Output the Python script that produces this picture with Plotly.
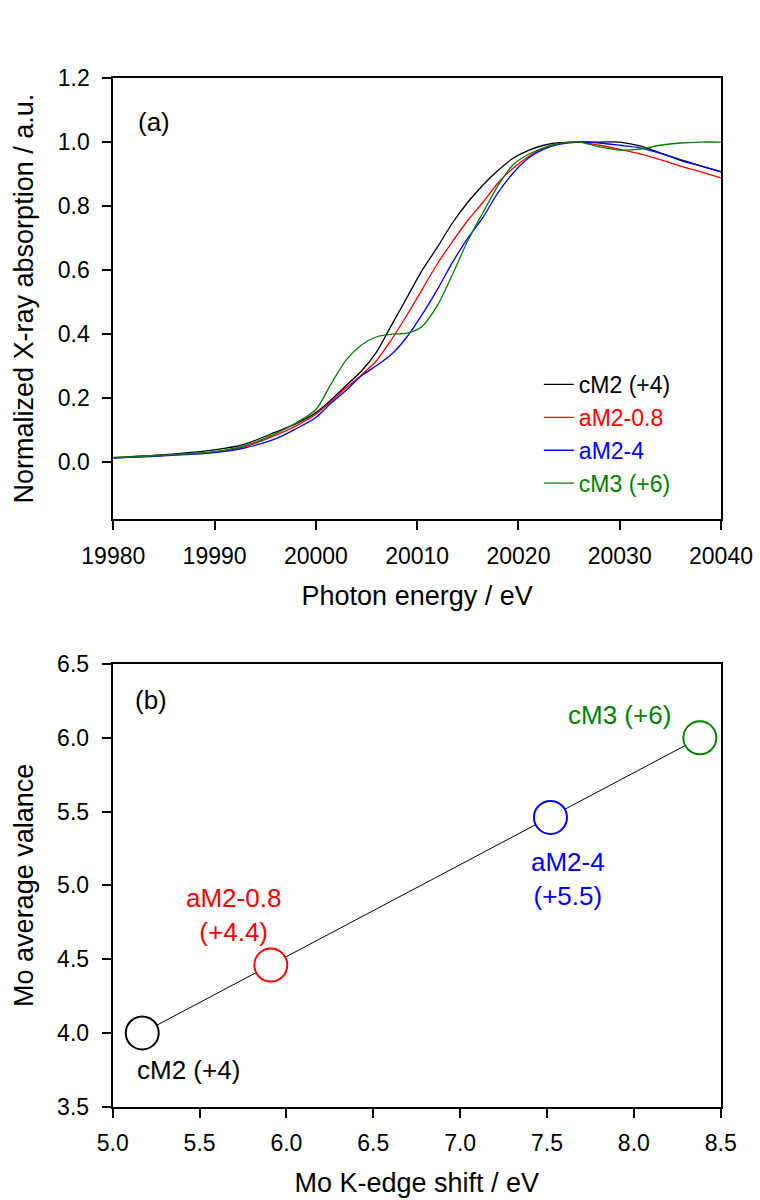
import plotly.graph_objects as go

# ---------------- Panel (a) data: Mo K-edge XANES ----------------
energy = [19980, 19985, 19990, 19993, 19996, 19998, 20000, 20001.5, 20003, 20004.5,
          20006, 20007.5, 20009, 20010.5, 20012, 20013.5, 20015, 20016.5, 20018, 20019.5,
          20021, 20022.5, 20024, 20026, 20028, 20030, 20032, 20034, 20036, 20038, 20040]

cM2 = [0.015, 0.024, 0.039, 0.057, 0.094, 0.120, 0.155, 0.195, 0.240, 0.285,
       0.345, 0.430, 0.515, 0.600, 0.672, 0.748, 0.812, 0.866, 0.912, 0.950,
       0.974, 0.990, 0.998, 1.000, 1.000, 1.000, 0.988, 0.966, 0.943, 0.925, 0.907]

aM2_08 = [0.014, 0.022, 0.032, 0.049, 0.084, 0.113, 0.150, 0.190, 0.233, 0.273,
          0.318, 0.385, 0.460, 0.540, 0.620, 0.690, 0.755, 0.812, 0.873, 0.919,
          0.955, 0.982, 0.995, 1.000, 0.990, 0.977, 0.963, 0.945, 0.925, 0.907, 0.888]

aM2_4 = [0.013, 0.020, 0.030, 0.045, 0.073, 0.104, 0.140, 0.185, 0.225, 0.270,
         0.302, 0.338, 0.392, 0.462, 0.540, 0.625, 0.700, 0.765, 0.843, 0.904,
         0.950, 0.978, 0.993, 1.000, 0.997, 0.990, 0.982, 0.965, 0.945, 0.926, 0.908]

cM3 = [0.014, 0.022, 0.033, 0.052, 0.089, 0.122, 0.165, 0.245, 0.320, 0.366,
       0.392, 0.400, 0.403, 0.425, 0.490, 0.587, 0.692, 0.780, 0.865, 0.930,
       0.962, 0.982, 0.995, 1.000, 0.985, 0.975, 0.978, 0.990, 0.997, 1.000, 1.000]

series_names = ["cM2 (+4)", "aM2-0.8", "aM2-4", "cM3 (+6)"]
series_colors = ["#000000", "#ff0000", "#0000ff", "#008000"]

# ---------------- Panel (b) data: valence vs edge shift ----------------
edge_shift = [5.17, 5.91, 7.52, 8.38]
valence = [4.00, 4.46, 5.46, 6.00]
point_labels = ["cM2 (+4)", "aM2-0.8<br>(+4.4)", "aM2-4<br>(+5.5)", "cM3 (+6)"]
label_dx = [46, -37, 18, -80]
label_dy = [-37, 50, -62, 23]

FONT = "Arial, Liberation Sans, sans-serif"
TICK = 23
TITLE = 27

fig = go.Figure()

for name, col, vals in zip(series_names, series_colors, [cM2, aM2_08, aM2_4, cM3]):
    fig.add_trace(go.Scatter(
        x=energy, y=vals, mode="lines", line=dict(color=col, width=1.3, shape="spline", smoothing=0.8),
        name=f'<span style="color:{col}">{name}</span>',
        xaxis="x", yaxis="y"))

fig.add_trace(go.Scatter(
    x=edge_shift, y=valence, mode="lines", line=dict(color="black", width=1),
    showlegend=False, xaxis="x2", yaxis="y2"))
fig.add_trace(go.Scatter(
    x=edge_shift, y=valence, mode="markers",
    marker=dict(symbol="circle", size=33, color="white",
                line=dict(color=series_colors, width=2)),
    showlegend=False, xaxis="x2", yaxis="y2"))

axis_common = dict(showline=True, linecolor="black", linewidth=2, mirror=True,
                   ticks="outside", ticklen=9, tickwidth=1.5, tickcolor="black",
                   showgrid=False, zeroline=False, automargin=False,
                   tickfont=dict(family=FONT, size=TICK, color="black"))

fig.update_layout(
    width=760, height=1200,
    margin=dict(l=0, r=0, t=0, b=0),
    paper_bgcolor="white", plot_bgcolor="white",
    font=dict(family=FONT, color="black"),
    xaxis=dict(domain=[0.1491, 0.9487], anchor="y", range=[19980, 20040], dtick=10,
               tick0=19980, tickformat="d", ticklabelstandoff=6,
               title=dict(text="Photon energy / eV", font=dict(family=FONT, size=TITLE), standoff=18),
               **axis_common),
    yaxis=dict(domain=[0.56725, 0.935], anchor="x", range=[-0.178, 1.2], dtick=0.2,
               tick0=0, tickformat=".1f", ticklabelstandoff=8,
               title=dict(text="Normalized X-ray absorption / a.u.", font=dict(family=FONT, size=TITLE), standoff=16),
               **axis_common),
    xaxis2=dict(domain=[0.1483, 0.9483], anchor="y2", range=[5.0, 8.5], dtick=0.5,
                tick0=5.0, tickformat=".1f", ticklabelstandoff=6,
                title=dict(text="Mo K-edge shift / eV", font=dict(family=FONT, size=TITLE), standoff=18),
                **axis_common),
    yaxis2=dict(domain=[0.07775, 0.44667], anchor="x2", range=[3.5, 6.5], dtick=0.5,
                tick0=3.5, tickformat=".1f", ticklabelstandoff=8,
                title=dict(text="Mo average valance", font=dict(family=FONT, size=TITLE), standoff=16),
                **axis_common),
    legend=dict(x=0.709, y=0.6975, xanchor="left", yanchor="top",
                bgcolor="rgba(0,0,0,0)", borderwidth=0,
                font=dict(family=FONT, size=23),
                traceorder="normal", tracegroupgap=0),
    showlegend=True,
)

annotations = [
    dict(text="(a)", xref="x domain", yref="y domain", x=0.038, y=0.90,
         xanchor="left", yanchor="middle", showarrow=False,
         font=dict(family=FONT, size=26, color="black")),
    dict(text="(b)", xref="x2 domain", yref="y2 domain", x=0.033, y=0.919,
         xanchor="left", yanchor="middle", showarrow=False,
         font=dict(family=FONT, size=26, color="black")),
]
for xs, v, lab, col, dx, dy in zip(edge_shift, valence, point_labels, series_colors, label_dx, label_dy):
    annotations.append(dict(text=lab, x=xs, y=v, xref="x2", yref="y2", showarrow=False,
                            xshift=dx, yshift=dy, xanchor="center", yanchor="middle",
                            font=dict(family=FONT, size=26, color=col)))
fig.update_layout(annotations=annotations)

fig.write_html("out.html", config={"displayModeBar": False},
               post_script="document.body.style.margin='0px';document.body.style.overflow='hidden';")
